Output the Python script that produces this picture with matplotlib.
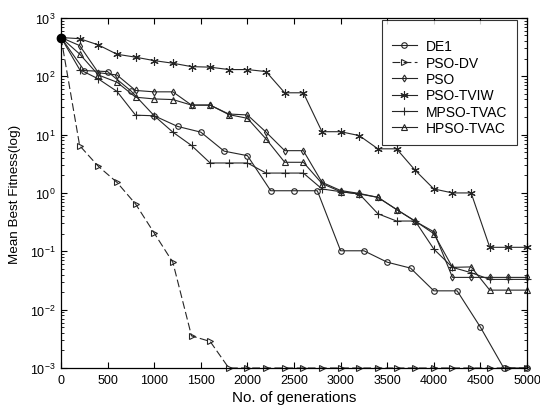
import numpy as np
import matplotlib.pyplot as plt
from matplotlib.ticker import LogLocator, NullFormatter, MultipleLocator

plt.rcParams['font.family'] = ['Liberation Sans', 'DejaVu Sans']

# ---------------------------------------------------------------------------
# Data (mean best fitness per generation)
# ---------------------------------------------------------------------------
gens = np.arange(0, 5001, 200)        # most methods: every 200 generations
gens_de1 = np.arange(0, 5001, 250)    # DE1: every 250 generations

de1 = [460, 125, 120, 56, 21, 13.8, 11, 5.2, 4.35, 1.09, 1.09, 1.09,
       0.102, 0.102, 0.065, 0.0515, 0.021, 0.021, 0.005, 0.001, 0.001]

pso_dv = [460, 6.46, 2.86, 1.52, 0.646, 0.205, 0.0646, 0.00355, 0.00285] + [0.001] * 17

pso = [460, 335, 115, 105, 57, 54, 54, 32, 32, 22.5, 21.7, 11, 5.3, 5.3,
       1.52, 1.1, 0.98, 0.84, 0.52, 0.326, 0.216, 0.0357, 0.0357, 0.0357,
       0.0357, 0.0357]

pso_tviw = [460, 440, 344, 238, 212, 185, 167, 146, 143, 130, 130, 120,
            52, 52, 11.2, 11.2, 9.6, 5.7, 5.7, 2.44, 1.17, 1.0, 1.0,
            0.117, 0.117, 0.117]

mpso_tvac = [460, 130, 90, 55, 21.5, 21, 11, 6.5, 3.26, 3.26, 3.26, 2.19,
             2.19, 2.19, 1.17, 1.05, 0.96, 0.44, 0.33, 0.33, 0.109, 0.053,
             0.043, 0.033, 0.033, 0.033]

hpso_tvac = [460, 240, 105, 79, 43.7, 40.8, 39.8, 32, 32, 22, 19, 8.4,
             3.35, 3.35, 1.45, 1.05, 0.96, 0.84, 0.52, 0.33, 0.2, 0.053,
             0.054, 0.0216, 0.0216, 0.0216]

# ---------------------------------------------------------------------------
# Plot
# ---------------------------------------------------------------------------
fig = plt.figure(figsize=(5.4, 4.1), dpi=100)
ax = fig.add_axes([0.113, 0.100, 0.863, 0.854])

lc = '#262626'
kw = dict(color=lc, lw=0.8, ms=4, mew=0.8, fillstyle='none', clip_on=False)

ax.plot(gens_de1, de1, marker='o', label='DE1', **kw)
ax.plot(gens, pso_dv, marker='>', ls=(0, (7, 3)), label='PSO-DV', **kw)
ax.plot(gens, pso, marker='d', label='PSO', **{**kw, 'ms': 3.5})
ax.plot(gens, pso_tviw, marker=(6, 2, 0), label='PSO-TVIW', **{**kw, 'ms': 6})
ax.plot(gens, mpso_tvac, marker='+', label='MPSO-TVAC', **{**kw, 'ms': 6})
ax.plot(gens, hpso_tvac, marker='^', label='HPSO-TVAC', **kw)

# common starting point appears as a solid blob
ax.plot(gens[0], pso_tviw[0], 'o', color='k', ms=6, clip_on=False)

ax.set_yscale('log')
ax.set_xlim(0, 5000)
ax.set_ylim(1e-3, 1e3)
ax.xaxis.set_major_locator(MultipleLocator(500))
ax.yaxis.set_major_locator(LogLocator(base=10, numticks=10))
ax.yaxis.set_minor_locator(LogLocator(base=10, subs=np.arange(2, 10), numticks=20))
ax.yaxis.set_minor_formatter(NullFormatter())

ax.tick_params(which='both', direction='in', top=True, right=True,
               labelsize=9, colors='k', pad=4)
ax.tick_params(which='major', length=4.5, width=0.8)
ax.tick_params(which='minor', length=2.5, width=0.6)
for sp in ax.spines.values():
    sp.set_linewidth(0.9)
    sp.set_color('k')

ax.set_xlabel('No. of generations', fontsize=11, labelpad=3)
ax.set_ylabel('Mean Best Fitness(log)', fontsize=9.7, labelpad=6)

leg = ax.legend(loc='upper right', bbox_to_anchor=(0.9785, 0.994),
                borderaxespad=0, fontsize=10, fancybox=False, frameon=True,
                edgecolor='k', handlelength=1.75, handletextpad=0.65,
                labelspacing=0.17, borderpad=0.72, title=' ',
                title_fontsize=6)
leg.get_frame().set_linewidth(0.8)

fig.savefig('out.png', dpi=100)
